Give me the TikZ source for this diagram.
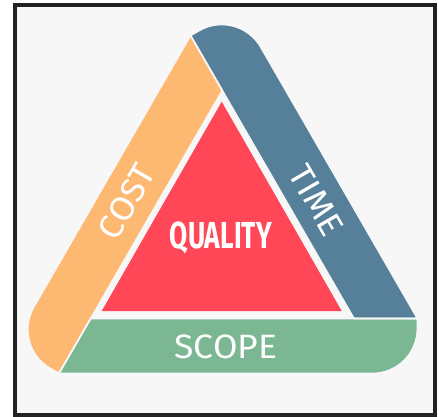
\documentclass[tikz,border=0pt]{standalone}
\usepackage{fontspec}
\setmainfont{Fira Sans}
\definecolor{bgc}{HTML}{F7F7F7}
\definecolor{framec}{HTML}{222222}
\definecolor{cgreen}{HTML}{7BB793}
\definecolor{cblue}{HTML}{567F99}
\definecolor{corange}{HTML}{FDB872}
\definecolor{cred}{HTML}{FF4757}
\begin{document}
\begin{tikzpicture}[x=1pt,y=-1pt,
  bandline/.style={line width=1.6pt, draw=bgc},
  lbl/.style={text=white, inner sep=0pt, font=\fontsize{33.8}{34}\selectfont}]
\useasboundingbox (0,0) rectangle (439,417);
\fill[white] (0,0) rectangle (439,417);
\draw[framec, fill=bgc, line width=4pt] (14.7,5.3) rectangle (435.3,415.3);
\coordinate (ctr) at (222.3,242.5);
\foreach \ang/\col in {0/cgreen,120/cblue,240/corange}
  \fill[\col, rotate around={\ang:(ctr)}] (90.7,318.5) -- (417.4,318.5) -- (417.4,328.5)
     arc[start angle=0,end angle=-90,radius=45pt] -- (58.9,373.5) -- cycle;
\foreach \ang in {0,120,240}
  \draw[bandline, rotate around={\ang:(ctr)}] (90.7,318.5) -- (417.4,318.5) -- (417.4,328.5)
     arc[start angle=0,end angle=-90,radius=45pt] -- (58.9,373.5) -- cycle;
\fill[cred] (221.7,101.7) -- (101.7,311) -- (341.7,311) -- cycle;
\node[lbl, anchor=base] (quality) at (220.8,248.3) {\resizebox{102pt}{26.7pt}{\bfseries QUALITY}};
\node[lbl, anchor=base] (scope) at (225.8,358.3) {\scalebox{1.05}[1]{SCOPE}};
\node[lbl, rotate=60] (cost) at (126.7,201.7) {\scalebox{1.05}[1]{COST}};
\node[lbl, rotate=-60] (time) at (316.7,200) {\scalebox{1.05}[1]{TIME}};
\end{tikzpicture}
\end{document}
